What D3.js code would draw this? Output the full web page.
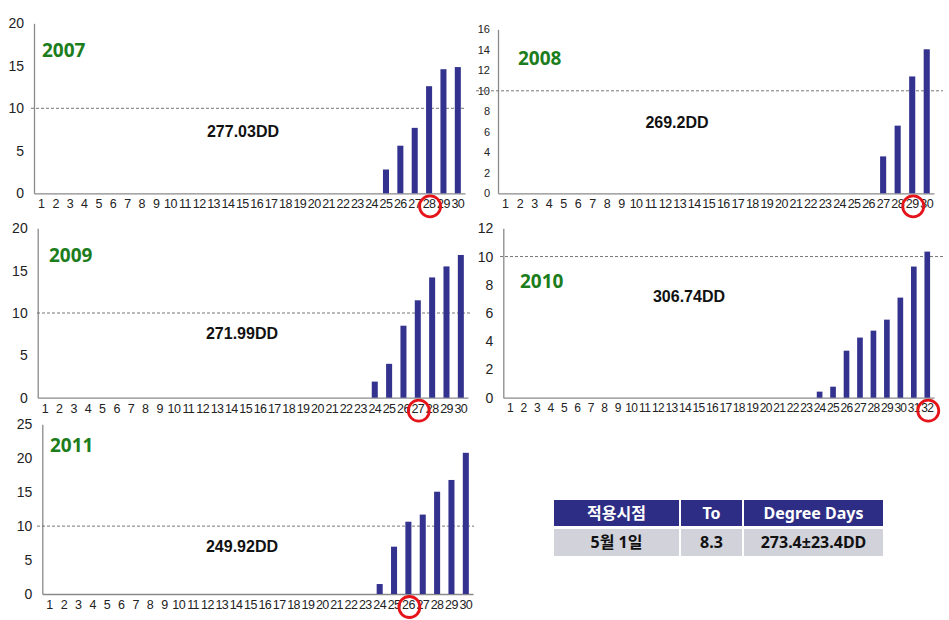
<!DOCTYPE html>
<html><head><meta charset="utf-8">
<script src="https://cdn.jsdelivr.net/npm/d3@7/dist/d3.min.js"></script>
<style>body{margin:0;background:#fff}svg{display:block}</style>
</head><body><svg id="c" width="949" height="620"></svg>
<script>
// ---- data ----
const days30 = [1,2,3,4,5,6,7,8,9,10,11,12,13,14,15,16,17,18,19,20,21,22,23,24,25,26,27,28,29,30];
const days32 = [1,2,3,4,5,6,7,8,9,10,11,12,13,14,15,16,17,18,19,20,21,22,23,24,25,26,27,28,29,30,31,32];
const v2007 = [0,0,0,0,0,0,0,0,0,0,0,0,0,0,0,0,0,0,0,0,0,0,0,0,2.8,5.6,7.7,12.6,14.6,14.85];
const v2008 = [0,0,0,0,0,0,0,0,0,0,0,0,0,0,0,0,0,0,0,0,0,0,0,0,0,0,3.6,6.6,11.4,14.05];
const v2009 = [0,0,0,0,0,0,0,0,0,0,0,0,0,0,0,0,0,0,0,0,0,0,0,1.9,4.0,8.5,11.5,14.2,15.5,16.85];
const v2010 = [0,0,0,0,0,0,0,0,0,0,0,0,0,0,0,0,0,0,0,0,0,0,0,0.43,0.78,3.33,4.26,4.75,5.53,7.09,9.29,10.35];
const v2011 = [0,0,0,0,0,0,0,0,0,0,0,0,0,0,0,0,0,0,0,0,0,0,0,1.47,6.97,10.65,11.7,15.07,16.8,20.8];
const years = ["2007","2008","2009","2010","2011"];
const ddLabels = ["277.03DD","269.2DD","271.99DD","306.74DD","249.92DD"];
const yMaxes = [20,16,20,12,25];
const yTicks2007 = [0,5,10,15,20];
const yTicks2008 = [0,2,4,6,8,10,12,14,16];
const yTicks2009 = [0,5,10,15,20];
const yTicks2010 = [0,2,4,6,8,10,12];
const yTicks2011 = [0,5,10,15,20,25];
const circledDays = [28,29,27,32,26];
const thresholdValue = 10;
const tableHeader = ["적용시점","To","Degree Days"];
const tableRow = ["5월 1일","8.3","273.4±23.4DD"];

// ---- layout (styles / positions) ----
const layout = [
  {x0:34,   x1:465, y0:193.3, y1:23.3,  yFont:14, dashL:31,  dashR:466, title:[42,57],  dd:[243,137]},
  {x0:498,  x1:934, y0:193.3, y1:29.3,  yFont:11, dashL:476, dashR:943, title:[518,65], dd:[677,128]},
  {x0:37.7, x1:468, y0:397.7, y1:228.3, yFont:14, dashL:37,  dashR:472, title:[49,262], dd:[242,339]},
  {x0:503.3,x1:934, y0:397.7, y1:228.3, yFont:14, dashL:500, dashR:945, title:[520,288],dd:[689,302]},
  {x0:42.3, x1:473, y0:594,   y1:424.3, yFont:14, dashL:37,  dashR:474, title:[50,452], dd:[242,552]}
];
const series = [v2007,v2008,v2009,v2010,v2011];
const cats = [days30,days30,days30,days32,days30];
const tickSets = [yTicks2007,yTicks2008,yTicks2009,yTicks2010,yTicks2011];

const svg = d3.select("#c");
const BAR = "#33338f", GREEN = "#1c7d1c", AXIS = "#8a8a8a";

series.forEach((vals, i) => {
  const L = layout[i];
  const g = svg.append("g");
  const x = d3.scaleBand().domain(cats[i]).range([L.x0, L.x1]).paddingInner(0).paddingOuter(0);
  const y = d3.scaleLinear().domain([0, yMaxes[i]]).range([L.y0, L.y1]);
  const bw = x.bandwidth() * 0.42;

  // y axis
  const ya = g.append("g").attr("transform", `translate(${L.x0},0)`)
    .call(d3.axisLeft(y).tickValues(tickSets[i]).tickSize(0).tickPadding(i===1?8:10));
  ya.select(".domain").attr("stroke", AXIS).attr("stroke-width",1.3);
  ya.selectAll("text").attr("font-family","'Liberation Sans',Arial,sans-serif")
    .attr("font-size", L.yFont).attr("fill","#222");

  // x axis
  const xa = g.append("g").attr("transform", `translate(0,${L.y0})`)
    .call(d3.axisBottom(x).tickSize(0).tickPadding(6));
  xa.select(".domain").attr("stroke", AXIS).attr("stroke-width",1.3);
  xa.selectAll("text").attr("font-family","'Liberation Sans',Arial,sans-serif")
    .attr("font-size", i===3 ? 12 : 12.5).attr("letter-spacing", i===3 ? "-0.7" : "-0.6").attr("fill","#222");

  // threshold dashed line
  g.append("line").attr("x1", L.dashL).attr("x2", L.dashR)
    .attr("y1", y(thresholdValue)).attr("y2", y(thresholdValue))
    .attr("stroke","#666").attr("stroke-width",0.9).attr("stroke-dasharray","3,2");

  // bars
  g.selectAll("rect.bar").data(vals.map((v,k)=>({d:cats[i][k], v})).filter(o=>o.v>0))
    .enter().append("rect").attr("class","bar")
    .attr("x", o => x(o.d) + (x.bandwidth()-bw)/2)
    .attr("width", bw)
    .attr("y", o => y(o.v))
    .attr("height", o => L.y0 - y(o.v))
    .attr("fill", BAR);

  // year title
  g.append("text").attr("x", L.title[0]).attr("y", L.title[1]).text(years[i])
    .attr("font-family","'Noto Sans',sans-serif").attr("font-weight","bold")
    .attr("font-size",19).attr("fill",GREEN);

  // DD label
  g.append("text").attr("x", L.dd[0]).attr("y", L.dd[1]).attr("text-anchor","middle").text(ddLabels[i])
    .attr("font-family","'Liberation Sans',Arial,sans-serif").attr("font-weight","bold")
    .attr("font-size",16).attr("fill","#111");

  // red circle
  g.append("circle").attr("cx", x(circledDays[i]) + x.bandwidth()/2 + 1).attr("cy", L.y0 + 13)
    .attr("r", 10.5).attr("fill","none").attr("stroke","#e5141a").attr("stroke-width",2.8);
});

// ---- table ----
const colX = [554, 681, 744], colW = [125, 61, 139];
const tg = svg.append("g");
const FONT = "'Noto Sans','Noto Sans CJK KR',sans-serif";
tableHeader.forEach((t, k) => {
  tg.append("rect").attr("x", colX[k]).attr("y", 500).attr("width", colW[k]).attr("height", 26).attr("fill", "#2d2d85");
  tg.append("text").attr("x", colX[k] + colW[k]/2).attr("y", 518.5).attr("text-anchor","middle").text(t)
    .attr("font-family", FONT).attr("font-weight","bold").attr("font-size",16).attr("fill","#fff");
});
tableRow.forEach((t, k) => {
  tg.append("rect").attr("x", colX[k]).attr("y", 529).attr("width", colW[k]).attr("height", 27).attr("fill", "#d2d2da");
  tg.append("text").attr("x", colX[k] + colW[k]/2).attr("y", 548).attr("text-anchor","middle").text(t)
    .attr("font-family", FONT).attr("font-weight","bold").attr("font-size",16).attr("fill","#111");
});
</script></body></html>
